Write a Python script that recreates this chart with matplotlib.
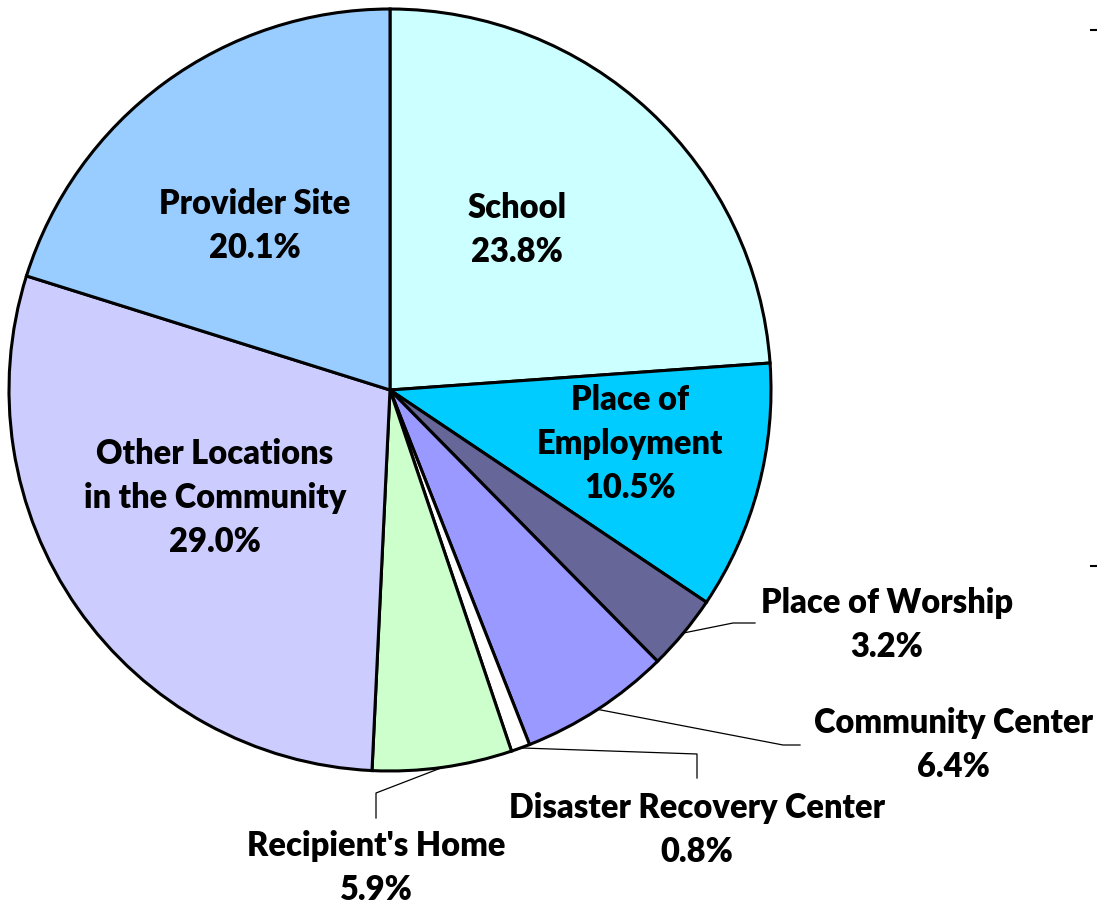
import math
import matplotlib
matplotlib.use("Agg")
import matplotlib.pyplot as plt

# share of services by location
locations = ["School", "Place of\nEmployment", "Place of Worship",
             "Community Center", "Disaster Recovery Center",
             "Recipient's Home", "Other Locations\nin the Community",
             "Provider Site"]
shares = [23.8, 10.5, 3.2, 6.4, 0.8, 5.9, 29.0, 20.1]
colors = ["#CCFFFF", "#00CCFF", "#666699", "#9999FF", "#FFFFFF",
          "#CCFFCC", "#CCCCFF", "#99CCFF"]

W, H = 1097, 905
CX, CY, R = 390, H - 390, 381

plt.rcParams["font.family"] = ["Lato", "DejaVu Sans"]
fig = plt.figure(figsize=(W / 100, H / 100), dpi=100)
ax = fig.add_axes([0, 0, 1, 1])

wedges, _ = ax.pie(shares, colors=colors, startangle=90,
                   counterclock=False, center=(CX, CY), radius=R,
                   wedgeprops=dict(edgecolor="black", linewidth=2.2))

# pie() resets the view, so put the pixel frame back afterwards
ax.set_xlim(0, W)
ax.set_ylim(0, H)
ax.set_aspect("equal")
ax.axis("off")

total = sum(shares)


def mid_point(i):
    before = sum(shares[:i]) + shares[i] / 2.0
    theta = 2 * math.pi * before / total
    return CX + R * math.sin(theta), CY + R * math.cos(theta)


def label(x, y, name, value):
    ax.text(x, H - y, "{0}\n{1:.1f}%".format(name, value),
            ha="center", va="center", fontsize=23.5, fontweight="heavy",
            linespacing=1.45)


# labels inside the pie
label(517, 230, locations[0], shares[0])
label(630, 444, locations[1], shares[1])
label(215, 498, locations[6], shares[6])
label(255, 226, locations[7], shares[7])

# labels outside with leader lines (elbow points in pixel coords)
outside = [
    (2, [(733, 623), (755, 623)], (887, 625)),
    (3, [(783, 745), (800, 745)], (953, 745)),
    (4, [(697, 754), (697, 778)], (697, 830)),
    (5, [(376, 793), (376, 818)], (376, 868)),
]
for i, path, pos in outside:
    x0, y0 = mid_point(i)
    xs = [x0] + [p[0] for p in path]
    ys = [y0] + [H - p[1] for p in path]
    ax.plot(xs, ys, color="black", lw=0.9)
    label(pos[0], pos[1], locations[i], shares[i])

# small marks along the right edge
for yy in (30, 566):
    ax.plot([1091, 1097], [H - yy, H - yy], color="black", lw=1.5)

fig.savefig("out.png", dpi=100)
